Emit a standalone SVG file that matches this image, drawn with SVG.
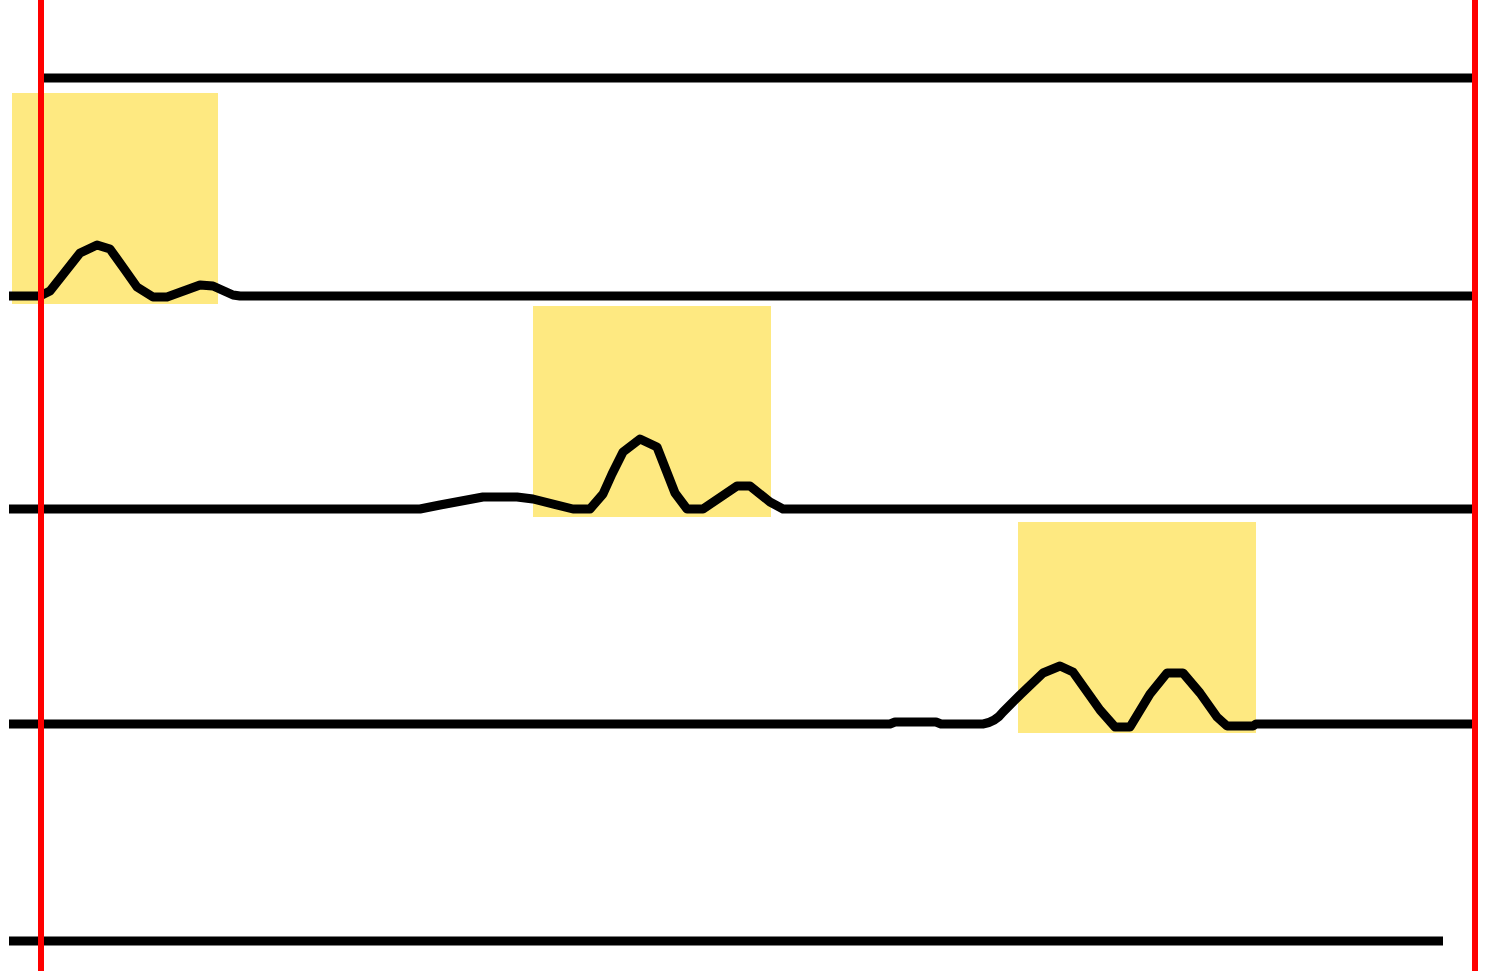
<svg xmlns="http://www.w3.org/2000/svg" width="1488" height="973" viewBox="0 0 1488 973">
<style>
.hl{fill:#FEE981;stroke:none}
.ln{fill:none;stroke:#000;stroke-width:9;stroke-linejoin:round}
.rd{stroke:#FF0000;stroke-width:6}
</style>
<rect width="1488" height="973" fill="#fff"/>
<g id="highlights">
<rect class="hl" x="12" y="93" width="206" height="211"/>
<rect class="hl" x="533" y="306" width="238" height="211"/>
<rect class="hl" x="1018" y="522" width="238" height="211"/>
</g>
<g id="traces">
<path class="ln" d="M43,78 H1472"/>
<path class="ln" d="M9,296 L40,296 L50,291 L65,272 L80,253 L97,245 L110,249 L125,270 L137,287 L153,297 L167,297 L200,285 L213,286 L233,295 L240,296 H1472"/>
<path class="ln" d="M9,509 L420,509 L440,505 L483,497 L517,497 L533,499 L573,509 L590,509 L603,494 L612,474 L623,452 L640,439 L657,447 L675,493 L687,509 L703,509 L737,486 L750,486 L770,502 L783,509 H1472"/>
<path class="ln" d="M9,724 L890,724 L895,722 L936,722 L941,724 L983,724 C995,722 1000,716 1003,712 L1020,695 L1043,673 L1060,666 L1073,672 L1100,710 L1115,727 L1130,727 L1150,694 L1167,673 L1183,673 L1200,693 L1217,717 L1227,726 L1253,726 L1256,724 H1472"/>
<path class="ln" d="M9,941 H1443"/>
</g>
<g id="markers">
<line class="rd" x1="41" y1="0" x2="41" y2="971"/>
<line class="rd" x1="1475" y1="0" x2="1475" y2="971"/>
</g>
</svg>
